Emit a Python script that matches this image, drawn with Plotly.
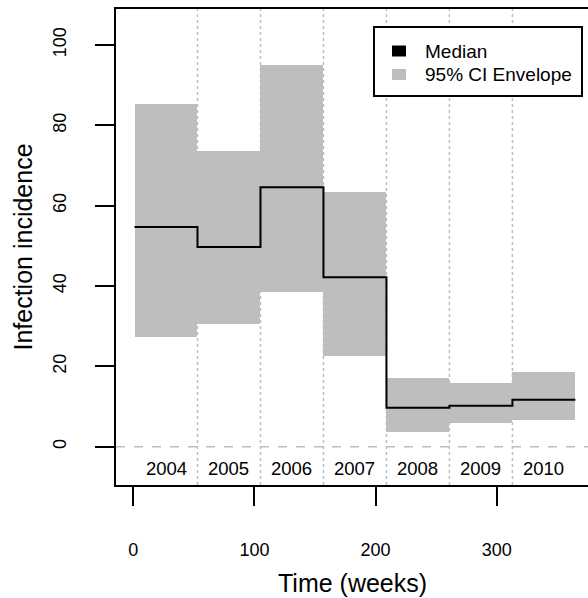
import plotly.graph_objects as go

# ---- data ----
years = ["2004", "2005", "2006", "2007", "2008", "2009", "2010"]
median = [54.7, 49.7, 64.6, 42.2, 9.7, 10.2, 11.7]
lower = [27.4, 30.5, 38.6, 22.6, 3.7, 6.0, 6.6]
upper = [85.4, 73.7, 95.1, 63.3, 17.0, 15.8, 18.5]
first_week = 1
weeks_per_year = 52
x_ticks = [0, 100, 200, 300]
y_ticks = [0, 20, 40, 60, 80, 100]
legend_labels = ["Median", "95% CI Envelope"]

starts = [first_week + i * weeks_per_year for i in range(len(years))]
end_week = starts[-1] + weeks_per_year
mids = [s + weeks_per_year / 2 for s in starts]

FONT = "Liberation Sans, Arial, sans-serif"
GRAY = "#BEBEBE"

# plot area in pixels (for paper-coordinate helpers)
W, H = 588, 598
L, R, T, B = 116, 588, 9, 485
def px(x):
    return (x - L) / (R - L)
def py(y):
    return (B - y) / (B - T)

fig = go.Figure()

# CI envelope as bars
fig.add_trace(go.Bar(
    x=starts, y=[u - l for u, l in zip(upper, lower)], base=lower,
    width=weeks_per_year, offset=0,
    marker=dict(color=GRAY, line=dict(width=0)),
    name=legend_labels[1], showlegend=False, hoverinfo="skip",
))
# median step line
fig.add_trace(go.Scatter(
    x=starts + [end_week], y=median + [median[-1]],
    mode="lines", line=dict(color="black", width=2, shape="hv"),
    name=legend_labels[0], showlegend=False,
))

# year separators
for s in starts[1:]:
    fig.add_shape(type="line", xref="x", yref="paper", x0=s, x1=s, y0=0, y1=1,
                  line=dict(color=GRAY, width=1.5, dash="dot"), layer="between")
# zero line
fig.add_shape(type="line", xref="paper", yref="y", x0=0, x1=1, y0=0, y1=0,
              line=dict(color=GRAY, width=1.5, dash="dash"), layer="between")

# year labels
for m, yr in zip(mids, years):
    fig.add_annotation(x=m, y=-5.4, xref="x", yref="y", text=yr, showarrow=False,
                       font=dict(family=FONT, size=18.5, color="black"))

# x axis title
fig.add_annotation(x=0.5, y=py(583), xref="paper", yref="paper",
                   yanchor="middle", text="Time (weeks)",
                   showarrow=False, font=dict(family=FONT, size=25, color="black"))

# legend (drawn manually, R style)
fig.add_shape(type="rect", xref="paper", yref="paper",
              x0=px(374), x1=px(582), y0=py(96), y1=py(27),
              line=dict(color="black", width=2), fillcolor="white", layer="above")
for i, (lab, col) in enumerate(zip(legend_labels, ["black", GRAY])):
    cy = 51 + i * 23.5
    fig.add_shape(type="rect", xref="paper", yref="paper",
                  x0=px(392), x1=px(406), y0=py(cy + 5.5), y1=py(cy - 5.5),
                  line=dict(width=0), fillcolor=col, layer="above")
    fig.add_annotation(x=px(423), y=py(cy), xref="paper", yref="paper",
                       xanchor="left", yanchor="middle", text=lab, showarrow=False,
                       font=dict(family=FONT, size=19, color="black"))

fig.update_layout(
    width=W, height=H,
    margin=dict(l=L, r=W - R, t=T, b=H - B),
    paper_bgcolor="white", plot_bgcolor="white",
    barmode="overlay", bargap=0,
    font=dict(family=FONT, size=18, color="black"),
    showlegend=False,
    xaxis=dict(range=[-14.28, 375.4], tickvals=x_ticks, ticks="outside",
               ticklen=19, tickwidth=2, tickcolor="black",
               showline=True, mirror=True, linecolor="black", linewidth=2,
               showgrid=False, zeroline=False, ticklabelstandoff=28,
               tickfont=dict(family=FONT, size=18)),
    yaxis=dict(range=[-9.53, 108.96], tickvals=y_ticks, ticks="outside",
               ticklen=19, tickwidth=2, tickcolor="black",
               showline=True, mirror=False, linecolor="black", linewidth=2,
               showgrid=False, zeroline=False, tickangle=-90,
               ticklabelstandoff=22,
               title=dict(text="Infection incidence", standoff=10,
                          font=dict(family=FONT, size=25)),
               tickfont=dict(family=FONT, size=18)),
)

fig.write_html("out.html")
